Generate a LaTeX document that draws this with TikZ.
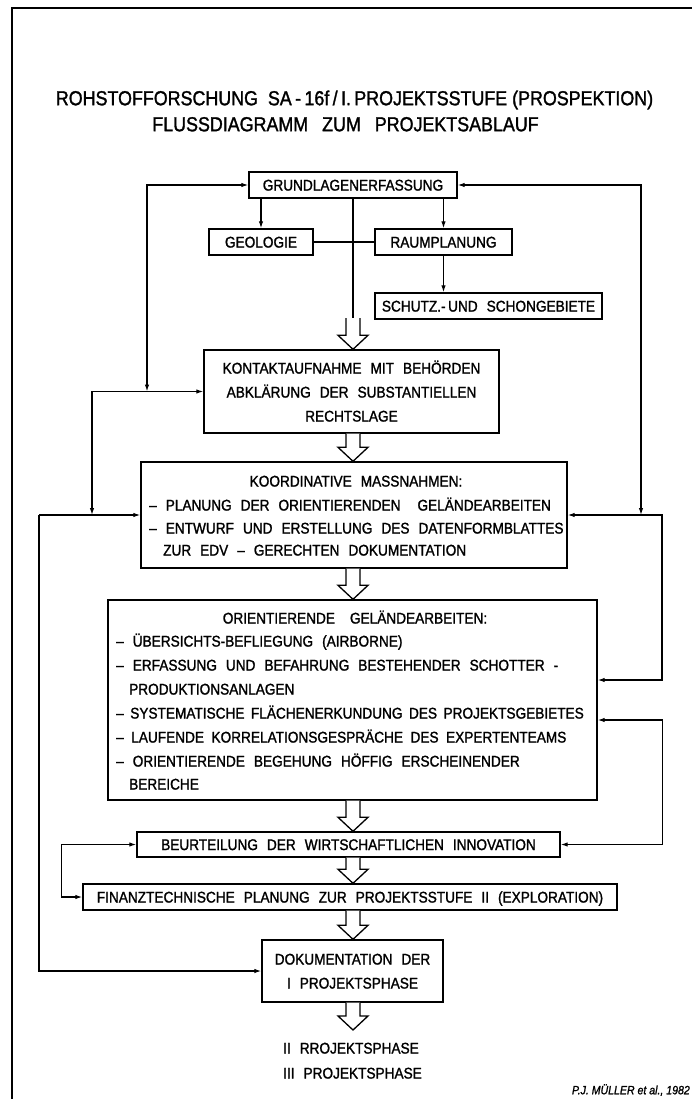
\documentclass[tikz,border=0pt]{standalone}
\usepackage{fontspec}
\setmainfont{Liberation Sans}[FakeStretch=0.88,FakeBold=1.4]
\usetikzlibrary{arrows.meta,calc}
\newcommand\bfnt{\fontsize{15.5}{24}\selectfont\spaceskip=9pt plus 1pt minus 1pt\relax}
\newcommand\bfntA{\fontsize{15.5}{24}\selectfont\spaceskip=6.5pt plus 1pt minus 1pt\relax}
\newcommand\bfntB{\fontsize{15.5}{24}\selectfont\spaceskip=7.5pt plus 1pt minus 1pt\relax}
\newcommand\ttlfnt{\fontsize{20.3}{24}\selectfont}
\newcommand\fatarrow[2]{%
  \draw[fat] let \p1=(axis |- #1), \p2=(axis |- #2) in
    (\x1-7pt,\y1) -- (\x1-7pt,\y2+14pt) -- (\x1-15pt,\y2+14pt) -- (\x1,\y2)
    -- (\x1+15pt,\y2+14pt) -- (\x1+7pt,\y2+14pt) -- (\x1+7pt,\y1);}
\tikzset{
  box/.style={draw, line width=1.4pt, inner sep=0pt, font=\bfnt, text height=11.1pt, text depth=0pt},
  txt/.style={inner sep=0pt, font=\bfnt, text height=11.1pt, text depth=0pt},
  conn/.style={line width=1.2pt, -{Latex[length=7pt,width=4.5pt]}},
  conn2/.style={line width=1.2pt, {Latex[length=7pt,width=4.5pt]}-{Latex[length=7pt,width=4.5pt]}},
  plain/.style={line width=1.2pt},
  fat/.style={line width=1.3pt, fill=white, draw=black, line join=miter},
}
\begin{document}
\begin{tikzpicture}[x=1pt,y=-1pt]
\useasboundingbox (0,0) rectangle (692,1099);
\draw[line width=1.1pt] (692,8) -- (12,8) -- (12,1099);
\coordinate (axis) at (353,0);
% titles
\node[inner sep=0pt, font=\ttlfnt, text height=14.5pt, text depth=0pt] (t1) at (354.5,98)
  {ROHSTOFFORSCHUNG\ \ SA\,-\,16f\,/\,I.\,PROJEKTSSTUFE (PROSPEKTION)};
\node[inner sep=0pt, font=\ttlfnt, text height=14.5pt, text depth=0pt] (t2) at (345.5,124)
  {FLUSSDIAGRAMM\hspace{14pt}ZUM\hspace{14pt}PROJEKTSABLAUF};
% top boxes
\node[box, minimum width=208pt, minimum height=26pt] (grund) at (353,185) {GRUNDLAGENERFASSUNG};
\node[box, minimum width=104pt, minimum height=26pt] (geo) at (261,242) {GEOLOGIE};
\node[box, minimum width=137pt, minimum height=26pt] (raum) at (443.5,242) {RAUMPLANUNG};
\node[box, minimum width=227pt, minimum height=26pt] (schutz) at (488.5,306) {SCHUTZ.-\,UND SCHONGEBIETE};
% kontakt
\node[box, minimum width=295pt, minimum height=83pt] (kontakt) at (351.5,391.5) {};
\node[txt] (k1) at (351.5,368) {KONTAKTAUFNAHME MIT BEHÖRDEN};
\node[txt] (k2) at (351.5,392) {ABKLÄRUNG DER SUBSTANTIELLEN};
\node[txt] (k3) at (351.5,416) {RECHTSLAGE};
% koordinative
\node[box, minimum width=426pt, minimum height=106pt] (koord) at (354,515) {};
\node[txt] (ko1) at (356,481) {KOORDINATIVE MASSNAHMEN:};
\node[txt, anchor=west] (ko2) at (149,505) {– PLANUNG DER ORIENTIERENDEN\hspace{8pt} GELÄNDEARBEITEN};
\node[txt, anchor=west] (ko3) at (149,528) {– ENTWURF UND ERSTELLUNG DES DATENFORMBLATTES};
\node[txt, anchor=west] (ko4) at (163,550) {ZUR EDV – GERECHTEN DOKUMENTATION};
% orientierende
\node[box, minimum width=489pt, minimum height=200pt] (orient) at (352.5,700) {};
\node[txt] (o1) at (355,618) {ORIENTIERENDE\hspace{6pt} GELÄNDEARBEITEN:};
\node[txt, anchor=west] (o2) at (116,641) {– ÜBERSICHTS-BEFLIEGUNG (AIRBORNE)};
\node[txt, anchor=west] (o3) at (116,665) {– ERFASSUNG UND BEFAHRUNG BESTEHENDER SCHOTTER -};
\node[txt, anchor=west] (o4) at (129,689) {PRODUKTIONSANLAGEN};
\node[txt, anchor=west, font=\bfntA] (o5) at (116,713) {– SYSTEMATISCHE FLÄCHENERKUNDUNG DES PROJEKTSGEBIETES};
\node[txt, anchor=west, font=\bfntB] (o6) at (116,737) {– LAUFENDE KORRELATIONSGESPRÄCHE DES EXPERTENTEAMS};
\node[txt, anchor=west] (o7) at (116,761) {– ORIENTIERENDE BEGEHUNG HÖFFIG ERSCHEINENDER};
\node[txt, anchor=west] (o8) at (129,784) {BEREICHE};
% lower boxes
\node[box, minimum width=423pt, minimum height=25pt] (beurt) at (348.5,844.5) {BEURTEILUNG DER WIRTSCHAFTLICHEN INNOVATION};
\node[box, minimum width=534pt, minimum height=26pt] (finanz) at (350,897) {FINANZTECHNISCHE PLANUNG ZUR PROJEKTSSTUFE II (EXPLORATION)};
\node[box, minimum width=181pt, minimum height=62pt] (doku) at (352.5,971) {};
\node[txt] (d1) at (352.5,959) {DOKUMENTATION DER};
\node[txt] (d2) at (352.5,983) {I PROJEKTSPHASE};
\node[txt, anchor=west] (p2) at (283,1048) {II RROJEKTSPHASE};
\node[txt, anchor=west] (p3) at (283,1073) {III PROJEKTSPHASE};
\node[inner sep=0pt, anchor=east, font=\fontsize{12}{14}\selectfont\itshape] (auth) at (690,1090) {P.J. MÜLLER et al., 1982};
% top connectors
\draw[conn] (grund.south -| geo.north) -- (geo.north);
\draw[conn] (grund.south -| raum.north) -- (raum.north);
\draw[conn] (raum.south) -- (raum.south |- schutz.north);
\draw[plain] (geo.east) -- (raum.west);
\coordinate (cend) at (353,318);
\draw[plain] (grund.south -| cend) -- (cend);
% hollow arrows
\fatarrow{cend}{kontakt.north}
\fatarrow{kontakt.south}{koord.north}
\fatarrow{koord.south}{orient.north}
\fatarrow{orient.south}{beurt.north}
\fatarrow{beurt.south}{finanz.north}
\fatarrow{finanz.south}{doku.north}
\coordinate (pend) at (353,1030);
\fatarrow{doku.south}{pend}
% left loops
\coordinate (l1) at (147,391.5);
\draw[conn2] (grund.west) -| (l1);
\coordinate (l2) at (92,515);
\draw[conn2] (l2) |- (kontakt.west);
\coordinate (l3) at (39,515);
\draw[conn] (l3) -- (koord.west);
\draw[conn] (l3) |- (doku.west);
\draw[conn2] (beurt.west) -- ++(-75pt,0pt) |- (finanz.west);
% right loops
\coordinate (r1) at (641,515);
\draw[conn2] (grund.east) -| (r1);
\coordinate (r2) at (662,515);
\draw[conn2] (koord.east) -- (r2) |- ([yshift=20pt]orient.east);
\draw[conn2] ([yshift=-20pt]orient.east) -- ++(65pt,0pt) |- (beurt.east);
\end{tikzpicture}
\end{document}
